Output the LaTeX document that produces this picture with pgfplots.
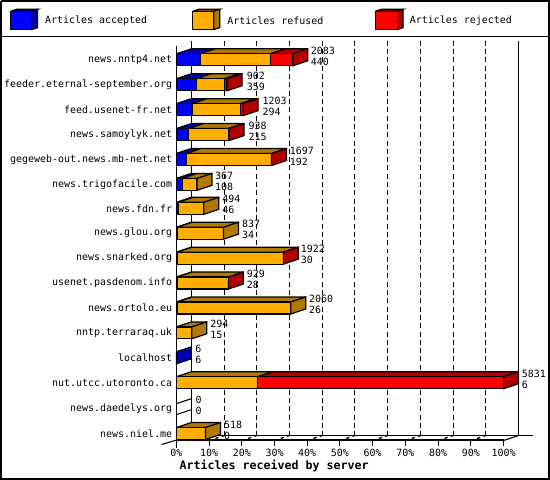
\documentclass[border=0pt]{standalone}
\usepackage{fontspec}
\setmainfont{DejaVu Sans Mono}
\usepackage{pgfplots}
\pgfplotsset{compat=1.18}
\definecolor{acc}{RGB}{0,0,255}
\definecolor{acctop}{RGB}{0,0,178}
\definecolor{ref}{RGB}{255,173,0}
\definecolor{reftop}{RGB}{178,121,0}
\definecolor{rej}{RGB}{255,0,0}
\definecolor{rejtop}{RGB}{178,0,0}

% one bar segment: row, from, to, front colour, top colour
\newcommand{\seg}[5]{%
  \pgfmathsetmacro\ra{#1-6}\pgfmathsetmacro\rb{#1+6}%
  \pgfmathsetmacro\rc{#1-11}%
  \pgfmathsetmacro\xa{#2+4.57}\pgfmathsetmacro\xb{#3+4.57}%
  \edef\tmp{\noexpand\addplot[draw=black,line width=0.9pt,fill=#5,line join=round]
    coordinates {(#2,\ra) (\xa,\rc) (\xb,\rc) (#3,\ra) (#2,\ra)};
    \noexpand\addplot[draw=black,line width=0.9pt,fill=#4]
    coordinates {(#2,\ra) (#3,\ra) (#3,\rb) (#2,\rb) (#2,\ra)};}\tmp}
% end face of a bar: row, end, colour
\newcommand{\barface}[3]{%
  \pgfmathsetmacro\ra{#1-6}\pgfmathsetmacro\rb{#1+6}%
  \pgfmathsetmacro\rc{#1-11}\pgfmathsetmacro\rd{#1+1}%
  \pgfmathsetmacro\xa{#2+4.57}%
  \edef\tmp{\noexpand\addplot[draw=black,line width=0.9pt,fill=#3]
    coordinates {(#2,\ra) (\xa,\rc) (\xa,\rd) (#2,\rb) (#2,\ra)};}\tmp}
\newcommand{\lab}{\fontsize{7.5pt}{8pt}\selectfont}
% the two numbers right of a bar
\newcommand{\vals}[4]{%
  \pgfmathsetmacro\ra{#1-9}\pgfmathsetmacro\rb{#1+2}%
  \edef\tmp{\noexpand\node[anchor=west,inner sep=0pt,font=\noexpand\lab] at (axis cs:#2,\ra) {#3};
    \noexpand\node[anchor=west,inner sep=0pt,font=\noexpand\lab] at (axis cs:#2,\rb) {#4};}\tmp}

\begin{document}
\begin{tikzpicture}[x=0.75pt,y=0.75pt]
\begin{axis}[
    scale only axis,
    anchor=north west,
    at={(176.7,-45)},
    width=246.2pt, height=296.25pt,
    xmin=0, xmax=100,
    ymin=45, ymax=440,
    y dir=reverse,
    clip=false,
    axis lines=none,
]
% outer frame and legend rule
\addplot[black,line width=1.5pt] coordinates {(-53.6,0) (113.9,0) (113.9,479.4) (-53.6,479.4) (-53.6,0)};
\addplot[black,line width=1.2pt] coordinates {(-53.6,35.5) (113.9,35.5)};

% legend cubes
\addplot[draw=black,line width=0.9pt,fill=acctop] coordinates {(-50.6,10.3) (-48.8,8.3) (-42.4,8.3) (-44.2,10.3) (-50.6,10.3)};
\addplot[draw=black,line width=0.9pt,fill=acctop] coordinates {(-44.2,10.3) (-42.4,8.3) (-42.4,26.7) (-44.2,28.7) (-44.2,10.3)};
\addplot[draw=black,line width=0.9pt,fill=acc] coordinates {(-50.6,10.3) (-44.2,10.3) (-44.2,28.7) (-50.6,28.7) (-50.6,10.3)};
\addplot[draw=black,line width=0.9pt,fill=reftop] coordinates {(5.05,10.3) (6.85,8.3) (13.25,8.3) (11.45,10.3) (5.05,10.3)};
\addplot[draw=black,line width=0.9pt,fill=reftop] coordinates {(11.45,10.3) (13.25,8.3) (13.25,26.7) (11.45,28.7) (11.45,10.3)};
\addplot[draw=black,line width=0.9pt,fill=ref] coordinates {(5.05,10.3) (11.45,10.3) (11.45,28.7) (5.05,28.7) (5.05,10.3)};
\addplot[draw=black,line width=0.9pt,fill=rejtop] coordinates {(60.8,10.3) (62.6,8.3) (69.3,8.3) (67.5,10.3) (60.8,10.3)};
\addplot[draw=black,line width=0.9pt,fill=rejtop] coordinates {(67.5,10.3) (69.3,8.3) (69.3,26.7) (67.5,28.7) (67.5,10.3)};
\addplot[draw=black,line width=0.9pt,fill=rej] coordinates {(60.8,10.3) (67.5,10.3) (67.5,28.7) (60.8,28.7) (60.8,10.3)};
\node[anchor=west,inner sep=0pt,font=\lab] at (axis cs:-40.2,20) {Articles accepted};
\node[anchor=west,inner sep=0pt,font=\lab] at (axis cs:15.5,20) {Articles refused};
\node[anchor=west,inner sep=0pt,font=\lab] at (axis cs:71.3,20) {Articles rejected};

% back plane grid
\addplot[black,line width=0.8pt] coordinates {(4.57,40) (4.57,436)};
\addplot[black,line width=0.8pt] coordinates {(104.57,40) (104.57,436)};
\pgfplotsinvokeforeach{14.57,24.57,34.57,44.57,54.57,64.57,74.57,84.57,94.57}{
  \addplot[black,line width=0.8pt,dash pattern=on 3.75pt off 2.5pt] coordinates {(#1,40) (#1,436)};
}
% floor
\addplot[black,line width=0.8pt] coordinates {(4.57,436) (109,436)};
\addplot[black,line width=0.8pt] coordinates {(0,440.5) (100,440.5)};
\addplot[black,line width=0.8pt] coordinates {(100,441) (104.57,436)};
\addplot[black,line width=0.8pt] coordinates {(-4.5,445) (4.57,436)};
\addplot[black,line width=0.8pt] coordinates {(0,45) (0,448)};
\pgfplotsinvokeforeach{10,20,30,40,50,60,70,80,90,100}{
  \addplot[black,line width=0.8pt] coordinates {(#1,446) (#1,441)};
}
\pgfplotsinvokeforeach{10,20,30,40,50,60,70,80,90}{
  \addplot[black,line width=1pt,dash pattern=on 2.5pt off 2.5pt] coordinates {(#1,441) ({#1+4.57},436)};
}
\pgfplotsinvokeforeach{0,10,20,30,40,50,60,70,80,90,100}{
  \node[inner sep=0pt,font=\lab] at (axis cs:#1,453) {#1\%};
}
\node[anchor=west,inner sep=0pt,font=\fontsize{8.75pt}{9pt}\selectfont\bfseries] at (axis cs:0.9,467) {Articles received by server};

% row labels
\node[anchor=east,inner sep=0pt,font=\lab] at (axis cs:-1.2,59) {news.nntp4.net};
\node[anchor=east,inner sep=0pt,font=\lab] at (axis cs:-1.2,84) {feeder.eternal-september.org};
\node[anchor=east,inner sep=0pt,font=\lab] at (axis cs:-1.2,109) {feed.usenet-fr.net};
\node[anchor=east,inner sep=0pt,font=\lab] at (axis cs:-1.2,134) {news.samoylyk.net};
\node[anchor=east,inner sep=0pt,font=\lab] at (axis cs:-1.2,159) {gegeweb-out.news.mb-net.net};
\node[anchor=east,inner sep=0pt,font=\lab] at (axis cs:-1.2,184) {news.trigofacile.com};
\node[anchor=east,inner sep=0pt,font=\lab] at (axis cs:-1.2,208) {news.fdn.fr};
\node[anchor=east,inner sep=0pt,font=\lab] at (axis cs:-1.2,233) {news.glou.org};
\node[anchor=east,inner sep=0pt,font=\lab] at (axis cs:-1.2,258) {news.snarked.org};
\node[anchor=east,inner sep=0pt,font=\lab] at (axis cs:-1.2,283) {usenet.pasdenom.info};
\node[anchor=east,inner sep=0pt,font=\lab] at (axis cs:-1.2,308) {news.ortolo.eu};
\node[anchor=east,inner sep=0pt,font=\lab] at (axis cs:-1.2,333) {nntp.terraraq.uk};
\node[anchor=east,inner sep=0pt,font=\lab] at (axis cs:-1.2,358) {localhost};
\node[anchor=east,inner sep=0pt,font=\lab] at (axis cs:-1.2,383) {nut.utcc.utoronto.ca};
\node[anchor=east,inner sep=0pt,font=\lab] at (axis cs:-1.2,409) {news.daedelys.org};
\node[anchor=east,inner sep=0pt,font=\lab] at (axis cs:-1.2,434) {news.niel.me};

% bars, top row first
\seg{59}{0}{7.3}{acc}{acctop}\seg{59}{7.3}{28.7}{ref}{reftop}\seg{59}{28.7}{35.6}{rej}{rejtop}\barface{59}{35.6}{rejtop}\vals{59}{41}{2083}{440}
\seg{84}{0}{6.1}{acc}{acctop}\seg{84}{6.1}{14.7}{ref}{reftop}\seg{84}{14.7}{15.5}{rej}{rejtop}\barface{84}{15.5}{rejtop}\vals{84}{21.5}{902}{359}
\seg{109}{0}{4.8}{acc}{acctop}\seg{109}{4.8}{19.6}{ref}{reftop}\seg{109}{19.6}{20.4}{rej}{rejtop}\barface{109}{20.4}{rejtop}\vals{109}{26.3}{1203}{294}
\seg{134}{0}{3.7}{acc}{acctop}\seg{134}{3.7}{15.9}{ref}{reftop}\seg{134}{15.9}{16.1}{rej}{rejtop}\barface{134}{16.1}{rejtop}\vals{134}{22}{938}{215}
\seg{159}{0}{3.0}{acc}{acctop}\seg{159}{3.0}{29.1}{ref}{reftop}\barface{159}{29.1}{rejtop}\vals{159}{34.6}{1697}{192}
\seg{184}{0}{1.8}{acc}{acctop}\seg{184}{1.8}{6.3}{ref}{reftop}\barface{184}{6.3}{reftop}\vals{184}{11.8}{367}{108}
\seg{208}{0}{0.6}{acc}{acctop}\seg{208}{0.6}{8.4}{ref}{reftop}\barface{208}{8.4}{reftop}\vals{208}{14}{494}{46}
\seg{233}{0}{0.3}{acc}{acctop}\seg{233}{0.3}{14.4}{ref}{reftop}\barface{233}{14.4}{reftop}\vals{233}{20}{837}{34}
\seg{258}{0}{0.2}{acc}{acctop}\seg{258}{0.2}{32.7}{ref}{reftop}\barface{258}{32.7}{rejtop}\vals{258}{38}{1922}{30}
\seg{283}{0}{0.2}{acc}{acctop}\seg{283}{0.2}{15.9}{ref}{reftop}\barface{283}{15.9}{rejtop}\vals{283}{21.5}{929}{28}
\seg{308}{0}{0.2}{acc}{acctop}\seg{308}{0.2}{35}{ref}{reftop}\barface{308}{35}{reftop}\vals{308}{40.5}{2060}{26}
\seg{333}{0}{4.7}{ref}{reftop}\barface{333}{4.7}{reftop}\vals{333}{10.3}{294}{15}
\barface{358}{0}{acctop}\vals{358}{5.7}{6}{6}
\seg{383}{0}{24.8}{ref}{reftop}\seg{383}{24.8}{100}{rej}{rejtop}\barface{383}{100}{rejtop}\vals{383}{105.5}{5831}{6}
\addplot[black,line width=0.8pt] coordinates {(0,404) (4.57,399)};
\addplot[black,line width=0.8pt] coordinates {(0,415) (4.57,410)};
\vals{409}{5.8}{0}{0}
\seg{434}{0}{8.9}{ref}{reftop}\barface{434}{8.9}{reftop}\vals{434}{14.5}{518}{0}
\end{axis}
\end{tikzpicture}
\end{document}
